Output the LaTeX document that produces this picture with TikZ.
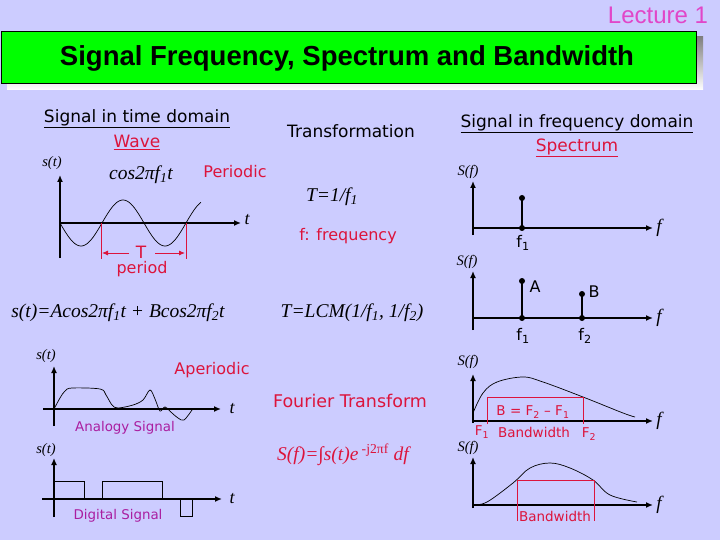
\documentclass[tikz,border=0pt]{standalone}
\usepackage{fontspec}
\setmainfont{Liberation Serif}
\setsansfont{DejaVu Sans}
\newfontfamily\titlefont{Liberation Sans}
\usetikzlibrary{arrows.meta}
\definecolor{bg}{RGB}{204,204,255}
\definecolor{tgreen}{RGB}{0,255,0}
\definecolor{lred}{RGB}{220,20,60}
\definecolor{lmag}{RGB}{170,30,160}
\definecolor{lpink}{RGB}{225,70,200}
\definecolor{shade}{RGB}{128,128,136}
\newcommand{\fs}[1]{\fontsize{#1}{#1}\selectfont}
\begin{document}
\begin{tikzpicture}[x=1pt,y=-1pt,
  axis/.style={line width=1.8pt,-{Latex[length=7pt,width=6pt]}},
  sig/.style={line width=0.7pt},
  redl/.style={lred,line width=0.9pt},
  stem/.style={line width=1.8pt},
  dotc/.style={circle,fill=black,inner sep=0,minimum size=6pt},
  lab/.style={inner sep=0,font=\sffamily\fs{17}},
  redlab/.style={inner sep=0,text=lred,font=\sffamily\fs{16}},
  maglab/.style={inner sep=0,text=lmag,font=\sffamily\fs{13.4}},
  eq/.style={inner sep=0,font=\itshape\fs{19.5}},
  axlab/.style={inner sep=0,font=\itshape\fs{14.5}},
  flab/.style={inner sep=0,font=\sffamily\fs{16}},
  bwlab/.style={inner sep=0,text=lred,font=\sffamily\fs{13.5}}]
\fill[bg] (0,0) rectangle (720,540);
\useasboundingbox (0,0) rectangle (720,540);
% title
\fill[shade] (7,37) rectangle (703,90);
\draw[fill=tgreen,line width=0.8pt] (1,31) rectangle (696,83);
\node[inner sep=0,font=\titlefont\bfseries\fs{27.5}] (title) at (347,58) {Signal Frequency, Spectrum and Bandwidth};
\node[inner sep=0,text=lpink,font=\titlefont\fs{24}] (lect) at (658,15) {Lecture 1};
% headings
\node[lab] (tdom) at (137,119) {\underline{Signal in time domain}};
\node[lab,text=lred] (wave) at (137,142) {\underline{Wave}};
\node[lab] (trans) at (351,131) {Transformation};
\node[lab] (fdom) at (577,124) {\underline{Signal in frequency domain}};
\node[lab,text=lred] (spec) at (577,148) {\underline{Spectrum}};
% periodic wave
\node[axlab] (st1) at (52,163) {s(t)};
\draw[axis] (60,258) -- (60,175);
\draw[axis] (60,223) -- (241,223);
\node[eq,font=\itshape\fs{18}] (t1) at (247,220) {t};
\draw[sig,domain=0:141,samples=90] plot ({60+\x},{223+23*sin(4.2857*\x)});
\node[eq] (cos1) at (141,175) {cos2πf\textsubscript{1}t};
\node[redlab] (periodic) at (235,172) {Periodic};
\draw[redl] (101,223) -- (101,259);
\draw[redl] (186,223) -- (186,259);
\node[inner sep=0,text=lred,font=\sffamily\fs{17}] (Tlab) at (141,252) {T};
\draw[redl,-{Latex[length=6pt,width=5pt]}] (129,253) -- (102,253);
\draw[redl,-{Latex[length=6pt,width=5pt]}] (155,253) -- (185,253);
\node[redlab] (period) at (142,269) {period};
\node[eq] (T1f) at (332,197) {T=1/f\textsubscript{1}};
\node[redlab] (freq) at (348,236) {f: frequency};
% spectrum 1
\node[axlab] (Sf1) at (468,172) {S(f)};
\draw[axis] (473,235) -- (473,181);
\draw[axis] (473,228) -- (653,228);
\node[eq,font=\itshape\fs{19}] (f1ax) at (659,228) {f};
\draw[stem] (522,228) -- (522,198);
\node[dotc] (d1a) at (522,198) {};
\node[dotc] (d1b) at (522,228) {};
\node[flab] (f1a) at (523,243) {f\textsubscript{1}};
% two tone
\node[eq] (twotone) at (118,313) {s(t)=Acos2πf\textsubscript{1}t + Bcos2πf\textsubscript{2}t};
\node[eq] (lcm) at (352,313) {T=LCM(1/f\textsubscript{1}, 1/f\textsubscript{2})};
% spectrum 2
\node[axlab] (Sf2) at (467,262) {S(f)};
\draw[axis] (473,330) -- (473,271);
\draw[axis] (473,318) -- (653,318);
\node[eq,font=\itshape\fs{19}] (f2ax) at (659,318) {f};
\draw[stem] (522,318) -- (522,281);
\draw[stem] (582,318) -- (582,294);
\node[dotc] (dA) at (522,281) {};
\node[dotc] (dB) at (582,294) {};
\node[dotc] (dA0) at (522,318) {};
\node[dotc] (dB0) at (582,318) {};
\node[flab] (A) at (535,287) {A};
\node[flab] (B) at (594,292) {B};
\node[flab] (f1b) at (523,336) {f\textsubscript{1}};
\node[flab] (f2b) at (585,336) {f\textsubscript{2}};
% aperiodic
\node[axlab] (st2) at (46,356) {s(t)};
\draw[axis] (54,426) -- (54,366);
\draw[axis] (43,409) -- (221,409);
\node[eq,font=\itshape\fs{18}] (t2) at (232,409) {t};
\draw[sig] plot[smooth,tension=0.55] coordinates {(54,409) (60,398) (65,391) (72,388) (100,389) (106,395) (112,405) (118,408) (133,405) (143,400) (150,390) (155,399) (160,411) (165,407) (172,413) (178,418) (184,420) (192,410)};
\node[redlab] (aper) at (212,370) {Aperiodic};
\node[maglab] (analog) at (125,428) {Analogy Signal};
\node[inner sep=0,text=lred,font=\sffamily\fs{17.5}] (ft) at (350,401) {Fourier Transform};
\node[eq,text=lred] (fteq) at (343,455) {S(f)=∫s(t)e\,\textsuperscript{\upshape -j2πf} df};
% digital
\node[axlab] (st3) at (46,450) {s(t)};
\draw[axis] (54,517) -- (54,458);
\draw[axis] (42,499) -- (222,499);
\node[eq,font=\itshape\fs{18}] (t3) at (232,499) {t};
\draw[sig] (54,499) -- (54,481) -- (84,481) -- (84,499);
\draw[sig] (102,499) -- (102,481) -- (162,481) -- (162,499);
\draw[sig] (180,499) rectangle (192,516);
\node[maglab] (digital) at (118,516) {Digital Signal};
% spectrum 3
\node[axlab] (Sf3) at (468,362) {S(f)};
\draw[axis] (473,423) -- (473,374);
\draw[axis] (473,421) -- (653,421);
\node[eq,font=\itshape\fs{19}] (f3ax) at (659,421) {f};
\draw[sig] plot[smooth,tension=0.6] coordinates {(473,413) (483,393) (497,382) (523,377) (543,382) (583,397) (623,413) (635,417)};
\draw[redl] (487,424) -- (487,397) -- (583,397) -- (583,424);
\node[bwlab] (Beq) at (533,412) {B = F\textsubscript{2} – F\textsubscript{1}};
\node[bwlab] (F1) at (482,432) {F\textsubscript{1}};
\node[bwlab] (bw1) at (534,432) {Bandwidth};
\node[bwlab] (F2) at (589,434) {F\textsubscript{2}};
% spectrum 4
\node[axlab] (Sf4) at (468,448) {S(f)};
\draw[axis] (473,508) -- (473,457);
\draw[axis] (473,505) -- (653,505);
\node[eq,font=\itshape\fs{19}] (f4ax) at (659,505) {f};
\draw[sig] plot[smooth,tension=0.6] coordinates {(473,505) (487,502) (513,483) (530,468) (550,463) (570,468) (593,480) (610,495) (637,502)};
\draw[redl] (517,521) -- (517,480) -- (594,480) -- (594,521);
\node[bwlab] (bw2) at (555,516) {Bandwidth};
\end{tikzpicture}
\end{document}
